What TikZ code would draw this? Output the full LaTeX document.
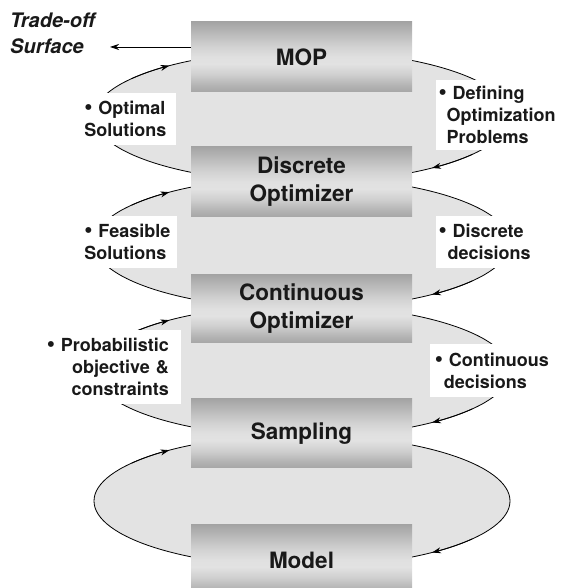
\documentclass[tikz,border=0pt]{standalone}
\usepackage{fontspec}
\setmainfont{TeX Gyre Heros}
\usetikzlibrary{shapes.geometric,arrows.meta,calc}
\definecolor{ellfill}{RGB}{227,227,227}
\definecolor{bA}{RGB}{164,164,164}
\definecolor{bB}{RGB}{184,184,184}
\definecolor{bC}{RGB}{210,210,210}
\definecolor{bD}{RGB}{224,224,224}
\definecolor{bE}{RGB}{226,226,226}
\definecolor{bF}{RGB}{207,207,207}
\definecolor{bG}{RGB}{180,180,180}
\definecolor{bH}{RGB}{166,166,166}
\pgfdeclareverticalshading{boxshade}{100bp}{color(0bp)=(bH); color(25bp)=(bH); color(30bp)=(bG); color(37.5bp)=(bF); color(45bp)=(bE); color(50bp)=(bD); color(57.5bp)=(bC); color(67.5bp)=(bB); color(75bp)=(bA); color(100bp)=(bA)}
\newcommand{\nohyph}{\hyphenpenalty=10000\relax}
\tikzset{
  ellnode/.style={ellipse, draw=black, line width=0.8pt, fill=ellfill, minimum width=416pt, minimum height=132pt, inner sep=0pt},
  boxnode/.style={shade, shading=boxshade, minimum width=221pt, minimum height=70pt, inner sep=0pt, align=center, font=\fontsize{22.5}{28}\selectfont\bfseries, text=black!90},
  lbl/.style={fill=white, inner ysep=0pt, font=\fontsize{18}{22}\selectfont\bfseries\nohyph, text=black!90},
  cyc/.style={line width=0.8pt, -{Stealth[length=9pt,width=6pt]}}
}
\newcommand{\bul}{\scalebox{1.3}{\textbullet}\hspace{5.8pt}}
\begin{document}
\begin{tikzpicture}[x=1pt,y=1pt]
\useasboundingbox (0,0) rectangle (562,588);
\clip (0,0) rectangle (562,588);
% ellipses
\node[ellnode] (e1) at (302,471.5) {};
\node[ellnode] (e2) at (302,345) {};
\node[ellnode] (e3) at (302,217) {};
\node[ellnode] (e4) at (302,87) {};
% arrow tips on the cycles
\foreach \e in {e1,e2,e3,e4}{
  \draw[cyc] ($(\e.center)+(145:208pt and 66pt)$) arc[start angle=145, end angle=129.6, x radius=208pt, y radius=66pt];
  \draw[cyc] ($(\e.center)+(-35:208pt and 66pt)$) arc[start angle=-35, end angle=-51.3, x radius=208pt, y radius=66pt];
}
% boxes
\node[boxnode] (mop) at (301.5,531) {MOP};
\node[boxnode] (disc) at (301.5,406) {Discrete\\Optimizer};
\node[boxnode, minimum height=68pt] (cont) at (301.5,279) {Continuous\\Optimizer};
\node[boxnode, minimum height=69pt] (samp) at (301.5,154.5) {Sampling};
\node[boxnode] (model) at (301.5,28) {Model};
% labels
\node[lbl, anchor=east, text width=88.4pt, inner xsep=3pt, minimum height=52pt, align=left] (l1) at (176,469) {\bul Optimal\\Solutions};
\node[lbl, anchor=west, text width=120pt, inner xsep=2.5pt, minimum height=70pt, align=left] (l2) at (436,473) {\bul Defining\\\hspace*{8pt}Optimization\\\hspace*{8pt}Problems};
\node[lbl, anchor=east, text width=89.4pt, inner xsep=3pt, minimum height=52pt, align=left] (l3) at (177,346) {\bul Feasible\\Solutions};
\node[lbl, anchor=west, text width=110pt, inner xsep=2.5pt, minimum height=52pt, align=left] (l4) at (436,346) {\bul Discrete\\\hspace*{9pt}decisions};
\node[lbl, anchor=east, text width=130pt, inner xsep=12pt, minimum height=74pt, align=right] (l5) at (181,221) {\bul Probabilistic\\objective \&\\constraints};
\node[lbl, anchor=west, text width=120pt, inner xsep=4.6pt, minimum height=53pt, align=left] (l6) at (430,217.5) {\bul Continuous\\\hspace*{9pt}decisions};
% trade-off
\node[font=\fontsize{20}{26}\selectfont\bfseries\itshape, text=black!90, align=left, inner sep=0pt, anchor=west] (trade) at (10,555) {Trade-off\\Surface};
\coordinate (tip) at (110,541);
\draw[cyc] (mop.west |- tip) -- (tip);
\end{tikzpicture}
\end{document}
